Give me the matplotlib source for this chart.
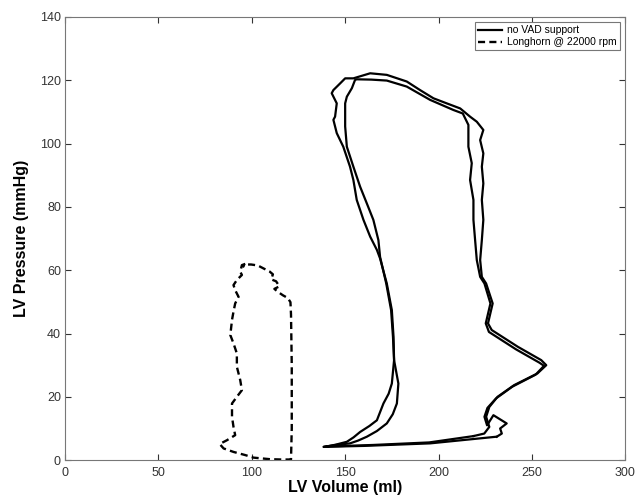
import numpy as np
import matplotlib.pyplot as plt

plt.rcParams['font.family'] = ['Liberation Sans', 'DejaVu Sans']

# no VAD support, first beat (outer loop)
vol_beat1 = [231, 195.5, 160, 138.4, 145, 152.6, 157, 161.6, 167, 172.3, 175.5, 177.7, 178.5,
             176.2, 175.9, 175, 172.3, 168.7, 167, 163.4, 159.8, 156.2, 154.4, 152.6, 149,
             145.5, 143.7, 144.6, 145.5, 142.8, 143.7, 147.3, 150, 154.4, 163.4, 172.3, 183,
             190.1, 197.3, 204.4, 211.6, 216.9, 220.5, 224, 222.3, 224, 223.2, 224, 223.2,
             224, 223.2, 222.3, 223.2, 225.5, 229, 226.5, 228.5, 242.5, 255, 257.7, 253,
             240.5, 231.6, 227.2, 225.5, 227.2, 224.5, 218.7]
prs_beat1 = [7.4, 5.3, 4.5, 4.2, 4.8, 5.3, 6.2, 7.4, 9.2, 11.6, 14.5, 17.9, 24.2,
             31.6, 39, 47.4, 55.8, 63.7, 66.4, 70.6, 75.9, 82.2, 88.5, 92.7, 99,
             103.3, 107.5, 108.5, 112.7, 115.9, 116.9, 119, 120.6, 120.6, 122.2, 121.7, 119.6,
             116.9, 114.3, 112.7, 111.1, 108.5, 106.9, 104.3, 101.1, 96.9, 92.7, 87.4, 82.2,
             75.9, 69.5, 63.2, 57.9, 55.8, 49.5, 43.2, 41.1, 35.8, 31.6, 30, 27.4,
             23.7, 20, 16.8, 13.7, 10.5, 8.4, 7.6]

# no VAD support, second beat (inner loop, ends in the small squiggle)
vol_beat2 = [218.7, 195, 165, 140, 145, 150.9, 154.5, 158, 163, 167, 170.5, 173.3, 175,
             176.2, 175.6, 174.6, 172, 168.7, 167.8, 165.1, 161.6, 158, 154.4, 150.9, 150,
             150, 150.9, 153.6, 155.3, 156.2, 164, 172.3, 183, 195.5, 208, 213, 216, 216,
             217.8, 216.9, 218.7, 218.7, 219.6, 220.5, 222.3, 224.6, 227.8, 225.3, 227, 241.5,
             254, 256.5, 252, 239.5, 230.8, 226.2, 224.6, 226, 229.4, 236.5, 233, 233.9, 231.2]
prs_beat2 = [7.6, 5.6, 4.8, 4.3, 4.9, 5.8, 7.2, 8.9, 10.8, 12.6, 17.9, 21, 24.2,
             31.6, 39, 47.4, 55.8, 64.2, 69.5, 75.9, 81.1, 86.4, 92.7, 99, 105.4,
             112.7, 114.8, 117.5, 120.1, 120.3, 120.2, 119.9, 118, 113.8, 110.6, 109.5, 105.9, 99,
             93.8, 88.5, 82.2, 75.9, 69.5, 63.2, 57.9, 55.8, 49.5, 43.2, 40.5, 35,
             30.8, 29.8, 27, 23.2, 19.5, 16.5, 13.7, 11, 14.2, 11.6, 10, 8.4, 7.4]

# Longhorn @ 22000 rpm
vol_lh = [96.5, 94.7, 93.8, 94.7, 92, 90.2, 91.1, 92.9, 91.1, 90.2, 89.4, 88.5, 90.2, 92,
          92, 93.8, 94.7, 92, 89.4, 89.4, 90.2, 91.1, 86.7, 82.8, 84.9, 90.2, 96.5, 100.9,
          106.2, 109.8, 116, 121, 121.4, 121.4, 121, 120.7, 119.3, 116.6, 113.9, 112.1, 114.8,
          113, 110.4, 111.3, 109.5, 106.8, 103.2, 99.6, 96.1, 95.2]
prs_lh = [62.0, 61.6, 59.5, 58.5, 56.9, 55.3, 53.7, 51.6, 49.5, 46.9, 44.3, 39.5, 36.9, 33.7,
          29.5, 25.3, 22.1, 20, 17.9, 13.7, 10.5, 7.9, 6.3, 5.1, 3.7, 2.6, 1.6, 0.8,
          0.5, 0.3, 0.2, 0.2, 10, 30, 46, 49.9, 51.2, 52.1, 53.2, 54.1, 54.9,
          56.5, 57.1, 58.7, 59.6, 60.4, 61.5, 61.8, 61.8, 60.9]

fig = plt.figure(figsize=(6.38, 4.98), dpi=100)
ax = fig.add_axes([0.102, 0.076, 0.878, 0.890])

ax.plot(vol_beat1, prs_beat1, color='black', lw=1.6, label='no VAD support')
ax.plot(vol_beat2, prs_beat2, color='black', lw=1.6)
ax.plot(vol_lh, prs_lh, color='black', lw=1.7, dashes=(3, 1.8),
        label='Longhorn @ 22000 rpm')

ax.set_xlim(0, 300)
ax.set_ylim(0, 140)
ax.set_xticks(np.arange(0, 301, 50))
ax.set_yticks(np.arange(0, 141, 20))
ax.tick_params(direction='in', length=4, top=True, right=True,
               labelsize=9, colors='#333333', width=0.8)
ax.tick_params(axis='x', pad=5)
ax.tick_params(axis='y', pad=3)
for sp in ax.spines.values():
    sp.set_color('#777777')
    sp.set_linewidth(0.8)

ax.set_xlabel('LV Volume (ml)', fontsize=11.5, fontweight='bold', labelpad=1)
ax.set_ylabel('LV Pressure (mmHg)', fontsize=11.5, fontweight='bold', labelpad=8)

leg = ax.legend(loc='upper right', fontsize=7.5, fancybox=False, framealpha=1,
                edgecolor='#777777', borderaxespad=0.5, handlelength=2.3,
                handletextpad=0.5, borderpad=0.3, labelspacing=0.2)
leg.get_frame().set_linewidth(0.8)

fig.savefig('out.png', dpi=100)
